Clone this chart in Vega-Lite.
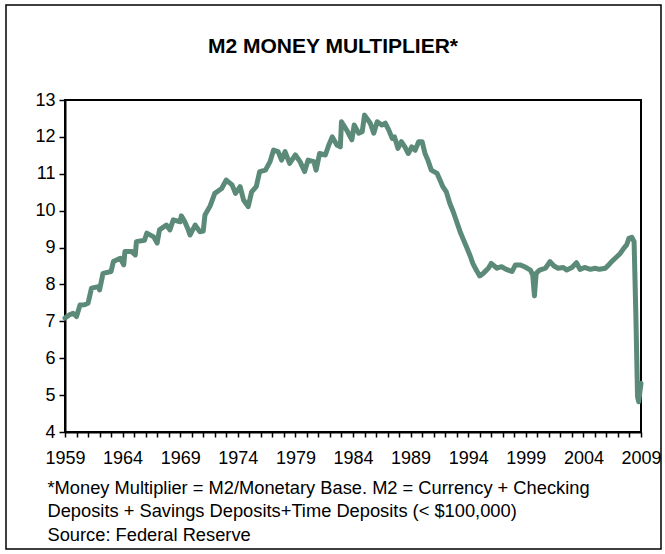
{
  "$schema": "https://vega.github.io/schema/vega-lite/v6.json",
  "autosize": "none",
  "width": 576,
  "height": 332,
  "padding": {"left": 65, "top": 100, "right": 24, "bottom": 122},
  "background": "white",
  "config": {
    "font": "Liberation Sans",
    "view": {"stroke": "black", "strokeWidth": 2}
  },
  "title": {
    "text": "M2 MONEY MULTIPLIER*",
    "font": "Liberation Sans",
    "fontSize": 21,
    "fontWeight": "bold",
    "color": "black",
    "anchor": "middle",
    "dx": -20,
    "offset": -53
  },
  "layer": [
    {
      "data": {"values": [{}]},
      "mark": {"type": "rect", "fill": null, "stroke": "black", "strokeWidth": 1.5, "clip": false},
      "encoding": {
        "x": {"value": -59},
        "x2": {"value": 596},
        "y": {"value": -95},
        "y2": {"value": 449}
      }
    },
    {
      "data": {"values": [
        {"t":1959.0,"v":7.09},{"t":1959.4,"v":7.18},{"t":1959.7,"v":7.22},{"t":1960.0,"v":7.13},
        {"t":1960.3,"v":7.44},{"t":1960.7,"v":7.45},{"t":1961.0,"v":7.49},{"t":1961.3,"v":7.90},
        {"t":1961.9,"v":7.94},{"t":1962.0,"v":7.85},{"t":1962.3,"v":8.30},{"t":1963.0,"v":8.35},
        {"t":1963.2,"v":8.62},{"t":1963.8,"v":8.71},{"t":1964.1,"v":8.53},{"t":1964.2,"v":8.89},
        {"t":1964.8,"v":8.89},{"t":1965.1,"v":8.80},{"t":1965.2,"v":9.16},{"t":1965.9,"v":9.20},
        {"t":1966.1,"v":9.39},{"t":1966.7,"v":9.29},{"t":1967.0,"v":9.12},{"t":1967.2,"v":9.48},
        {"t":1967.8,"v":9.61},{"t":1968.1,"v":9.48},{"t":1968.4,"v":9.75},{"t":1969.0,"v":9.70},
        {"t":1969.1,"v":9.86},{"t":1969.4,"v":9.70},{"t":1969.7,"v":9.48},{"t":1969.85,"v":9.34},
        {"t":1970.3,"v":9.61},{"t":1970.7,"v":9.43},{"t":1971.0,"v":9.45},{"t":1971.15,"v":9.88},
        {"t":1971.6,"v":10.13},{"t":1972.0,"v":10.47},{"t":1972.6,"v":10.60},{"t":1973.0,"v":10.83},
        {"t":1973.5,"v":10.70},{"t":1973.8,"v":10.47},{"t":1974.2,"v":10.65},{"t":1974.5,"v":10.29},
        {"t":1974.9,"v":10.11},{"t":1975.2,"v":10.51},{"t":1975.6,"v":10.65},{"t":1975.9,"v":11.06},
        {"t":1976.4,"v":11.10},{"t":1976.8,"v":11.33},{"t":1977.1,"v":11.64},{"t":1977.5,"v":11.60},
        {"t":1977.8,"v":11.37},{"t":1978.1,"v":11.60},{"t":1978.5,"v":11.28},{"t":1979.0,"v":11.51},
        {"t":1979.4,"v":11.33},{"t":1979.8,"v":11.06},{"t":1980.1,"v":11.37},{"t":1980.6,"v":11.33},
        {"t":1980.8,"v":11.10},{"t":1981.1,"v":11.55},{"t":1981.6,"v":11.51},{"t":1981.9,"v":11.78},
        {"t":1982.2,"v":12.00},{"t":1982.6,"v":11.78},{"t":1982.9,"v":11.73},{"t":1983.0,"v":12.41},
        {"t":1983.5,"v":12.16},{"t":1983.9,"v":11.92},{"t":1984.1,"v":12.32},{"t":1984.5,"v":12.10},
        {"t":1984.8,"v":12.14},{"t":1985.0,"v":12.59},{"t":1985.5,"v":12.37},{"t":1985.8,"v":12.10},
        {"t":1986.1,"v":12.41},{"t":1986.5,"v":12.32},{"t":1986.8,"v":12.37},{"t":1987.1,"v":12.19},
        {"t":1987.4,"v":11.96},{"t":1987.6,"v":12.00},{"t":1987.9,"v":11.69},{"t":1988.2,"v":11.87},
        {"t":1988.5,"v":11.73},{"t":1988.8,"v":11.55},{"t":1989.1,"v":11.73},{"t":1989.4,"v":11.64},
        {"t":1989.7,"v":11.87},{"t":1990.0,"v":11.87},{"t":1990.25,"v":11.55},{"t":1990.5,"v":11.37},
        {"t":1990.8,"v":11.10},{"t":1991.3,"v":11.01},{"t":1991.55,"v":10.83},{"t":1991.8,"v":10.65},
        {"t":1992.1,"v":10.51},{"t":1992.4,"v":10.20},{"t":1992.7,"v":9.97},{"t":1993.0,"v":9.70},
        {"t":1993.3,"v":9.43},{"t":1993.6,"v":9.20},{"t":1993.9,"v":8.98},{"t":1994.2,"v":8.75},
        {"t":1994.4,"v":8.57},{"t":1994.7,"v":8.39},{"t":1995.0,"v":8.23},{"t":1995.3,"v":8.30},
        {"t":1995.75,"v":8.44},{"t":1996.0,"v":8.57},{"t":1996.5,"v":8.44},{"t":1996.9,"v":8.48},
        {"t":1997.3,"v":8.41},{"t":1997.8,"v":8.35},{"t":1998.1,"v":8.53},{"t":1998.5,"v":8.53},
        {"t":1998.9,"v":8.48},{"t":1999.4,"v":8.39},{"t":1999.6,"v":8.26},{"t":1999.75,"v":7.69},
        {"t":1999.9,"v":8.30},{"t":2000.2,"v":8.39},{"t":2000.7,"v":8.44},{"t":2001.1,"v":8.62},
        {"t":2001.45,"v":8.50},{"t":2001.8,"v":8.44},{"t":2002.25,"v":8.46},{"t":2002.55,"v":8.39},
        {"t":2003.0,"v":8.46},{"t":2003.4,"v":8.59},{"t":2003.7,"v":8.41},{"t":2004.1,"v":8.46},
        {"t":2004.6,"v":8.41},{"t":2005.0,"v":8.44},{"t":2005.4,"v":8.41},{"t":2005.9,"v":8.44},
        {"t":2006.2,"v":8.53},{"t":2006.45,"v":8.62},{"t":2006.9,"v":8.75},{"t":2007.2,"v":8.84},
        {"t":2007.5,"v":8.98},{"t":2007.75,"v":9.07},{"t":2007.95,"v":9.25},{"t":2008.2,"v":9.28},
        {"t":2008.4,"v":9.16},{"t":2008.55,"v":7.22},{"t":2008.7,"v":4.96},{"t":2008.8,"v":4.82},
        {"t":2009.0,"v":5.32}
      ]},
      "mark": {"type": "line", "color": "#5b8a78", "strokeWidth": 5, "strokeJoin": "round", "strokeCap": "round"},
      "encoding": {
        "x": {
          "field": "t", "type": "quantitative",
          "scale": {"domain": [1959, 2009], "nice": false, "zero": false},
          "axis": {
            "values": [1959,1960,1961,1962,1963,1964,1965,1966,1967,1968,1969,1970,1971,1972,1973,1974,1975,1976,1977,1978,1979,1980,1981,1982,1983,1984,1985,1986,1987,1988,1989,1990,1991,1992,1993,1994,1995,1996,1997,1998,1999,2000,2001,2002,2003,2004,2005,2006,2007,2008,2009],
            "labelExpr": "(datum.value - 1959) % 5 === 0 ? format(datum.value, 'd') : ''",
            "grid": false,
            "domainColor": "black", "domainWidth": 2,
            "tickColor": "black", "tickWidth": 1.5, "tickSize": 5,
            "labelFont": "Liberation Sans", "labelFontSize": 18, "labelColor": "black",
            "labelPadding": 12, "labelOverlap": false, "labelFlush": false,
            "title": ["*Money Multiplier = M2/Monetary Base. M2 = Currency + Checking", "Deposits + Savings Deposits+Time Deposits (< $100,000)", "Source: Federal Reserve"],
            "titleFont": "Liberation Sans", "titleFontSize": 18.3, "titleFontWeight": "normal", "titleColor": "black",
            "titleAnchor": "start", "titleAlign": "left", "titleBaseline": "alphabetic",
            "titleX": -18, "titleY": 61, "titleLineHeight": 23.5
          }
        },
        "y": {
          "field": "v", "type": "quantitative",
          "scale": {"domain": [4, 13], "nice": false, "zero": false},
          "axis": {
            "values": [4,5,6,7,8,9,10,11,12,13],
            "grid": false,
            "domainColor": "black", "domainWidth": 2,
            "tickColor": "black", "tickWidth": 1.5, "tickSize": 6,
            "labelFont": "Liberation Sans", "labelFontSize": 18, "labelColor": "black",
            "labelPadding": 4, "labelFlush": false,
            "title": null
          }
        }
      }
    }
  ]
}
